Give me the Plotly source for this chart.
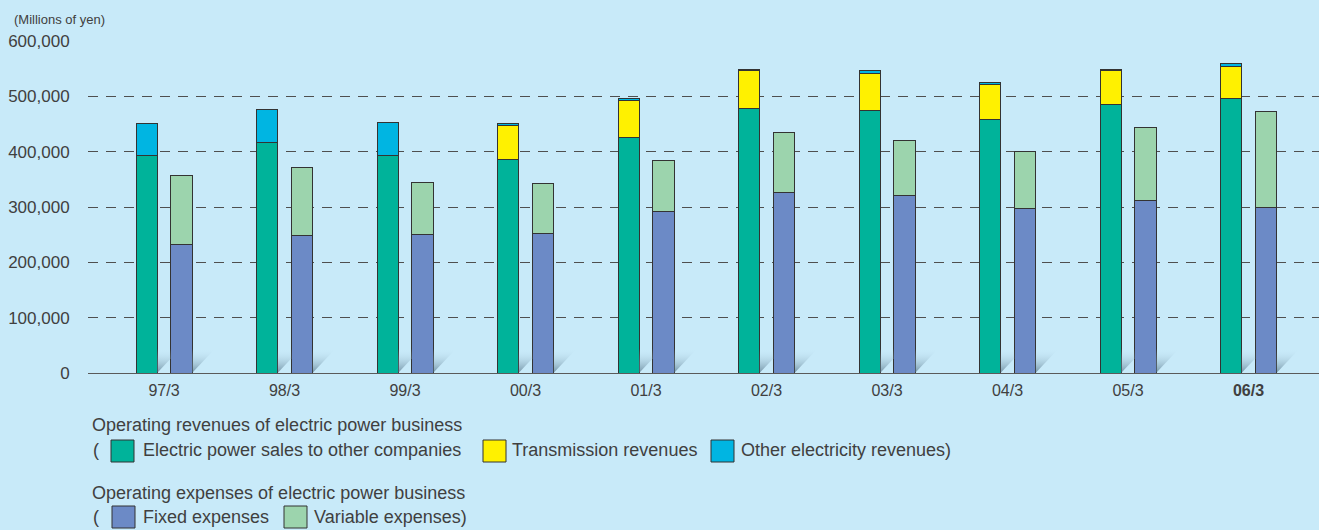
import plotly.graph_objects as go

# Fiscal years (March year-end) and values in millions of yen
years = ["97/3", "98/3", "99/3", "00/3", "01/3", "02/3", "03/3", "04/3", "05/3", "06/3"]
sales_other_cos = [392600, 417000, 392500, 386000, 426000, 478000, 474000, 458500, 485600, 496000]
transmission = [0, 0, 0, 61600, 66700, 67800, 67600, 63500, 60400, 58800]
other_electricity = [58400, 59500, 59500, 2900, 3000, 3200, 5400, 2600, 3000, 4800]
fixed_exp = [232500, 249000, 251000, 253000, 292000, 327000, 320000, 298000, 311000, 299000]
variable_exp = [124100, 122700, 94000, 90000, 92000, 108000, 101000, 103000, 132000, 174000]
y_ticks = [0, 100000, 200000, 300000, 400000, 500000, 600000]

BG = "#c8eaf9"
TEXT = "#404040"
FONT = "Liberation Sans, Arial, sans-serif"

# page geometry (pixels) used for annotation placement
W, H = 1319, 530
L, R, T, B = 88, 0, 41, 157
PW, PH = W - L - R, H - T - B


def px(x):
    # pixel x -> paper x
    return (x - L) / PW


def py(y):
    # pixel y -> paper y
    return (H - B - y) / PH


bar_w = 0.175
off = 0.145
rev_x = [i - off for i in range(len(years))]
exp_x = [i + off for i in range(len(years))]
outline = dict(color="#333333", width=1)

fig = go.Figure()

# Revenue stack
fig.add_trace(go.Bar(x=rev_x, y=sales_other_cos, width=bar_w, marker=dict(color="#00b39a", line=outline),
                     name="Electric power sales to other companies"))
fig.add_trace(go.Bar(x=rev_x, y=transmission, width=bar_w, marker=dict(color="#fff100", line=outline),
                     name="Transmission revenues"))
fig.add_trace(go.Bar(x=rev_x, y=other_electricity, width=bar_w, marker=dict(color="#00b5e2", line=outline),
                     name="Other electricity revenues"))
# Expense stack
fig.add_trace(go.Bar(x=exp_x, y=fixed_exp, width=bar_w, marker=dict(color="#6c8ac6", line=outline),
                     name="Fixed expenses"))
fig.add_trace(go.Bar(x=exp_x, y=variable_exp, width=bar_w, marker=dict(color="#9cd4ad", line=outline),
                     name="Variable expenses"))

# Floor shadows to the right of each bar
sh_h = 44000
sh_w = 0.19
grad = dict(type="vertical", colorscale=[[0, "rgba(80,110,130,0.7)"], [1, "rgba(200,234,250,0)"]])
for i in range(len(years)):
    for xc, limit in ((rev_x[i], exp_x[i] - bar_w / 2), (exp_x[i], exp_x[i] + 1)):
        xr = xc + bar_w / 2
        xe = min(xr + sh_w, limit)
        yd = sh_h * (xe - xr) / sh_w
        fig.add_trace(go.Scatter(x=[xr, xr, xe, xe, xr], y=[0, sh_h, sh_h, yd, 0], mode="lines",
                                 line=dict(width=0), fill="toself", fillgradient=grad,
                                 hoverinfo="skip", showlegend=False))

tick_text = years[:-1] + ["<b>" + years[-1] + "</b>"]

fig.update_layout(
    barmode="stack",
    width=W, height=H,
    paper_bgcolor=BG, plot_bgcolor=BG,
    margin=dict(l=L, r=R, t=T, b=B),
    showlegend=False,
    font=dict(family=FONT, color=TEXT),
    xaxis=dict(range=[-0.631, 9.585], tickvals=list(range(len(years))), ticktext=tick_text,
               showgrid=False, zeroline=False, showline=True, linecolor="#5a5a5a", linewidth=1,
               ticks="outside", ticklen=3, tickcolor="rgba(0,0,0,0)", tickfont=dict(size=16, color=TEXT)),
    yaxis=dict(range=[0, 600000], tickvals=y_ticks, tickformat=",", showgrid=True,
               gridcolor="#4f4f4f", gridwidth=1, griddash="10px,8px", zeroline=False,
               ticks="outside", ticklen=14, tickcolor="rgba(0,0,0,0)", tickfont=dict(size=17, color=TEXT)),
)

ann = [
    dict(text="(Millions of yen)", x=px(12), y=py(19), size=13),
    dict(text="Operating revenues of electric power business", x=px(90), y=py(425), size=18),
    dict(text="(", x=px(91), y=py(450), size=18),
    dict(text="Electric power sales to other companies", x=px(141), y=py(450), size=18),
    dict(text="Transmission revenues", x=px(510), y=py(450), size=18),
    dict(text="Other electricity revenues)", x=px(739), y=py(450), size=18),
    dict(text="Operating expenses of electric power business", x=px(90), y=py(493), size=18),
    dict(text="(", x=px(91), y=py(517), size=18),
    dict(text="Fixed expenses", x=px(141), y=py(517), size=18),
    dict(text="Variable expenses)", x=px(312), y=py(517), size=18),
]
for a in ann:
    fig.add_annotation(text=a["text"], x=a["x"], y=a["y"], xref="paper", yref="paper",
                       xanchor="left", yanchor="middle", showarrow=False,
                       font=dict(size=a["size"], color=TEXT, family=FONT))

# Legend swatches
swatches = [
    ("#00b39a", 111, 451), ("#fff100", 483, 451), ("#00b5e2", 711, 451),
    ("#6c8ac6", 112, 517), ("#9cd4ad", 284, 517),
]
for color, x0, yc in swatches:
    fig.add_shape(type="rect", xref="paper", yref="paper",
                  x0=px(x0), x1=px(x0 + 23), y0=py(yc + 11), y1=py(yc - 11),
                  fillcolor=color, line=dict(color="#333333", width=1))

# drop the page's default body margin so the figure sits at the window corner
fig.write_html("out.html", config={"displayModeBar": False},
               post_script="document.body.style.margin='0px';document.body.style.overflow='hidden';")
